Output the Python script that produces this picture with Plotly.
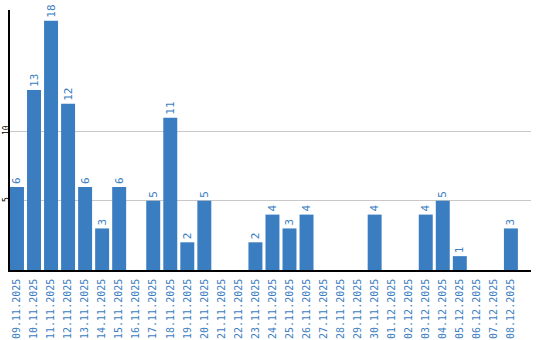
import plotly.graph_objects as go

dates = ["09.11.2025","10.11.2025","11.11.2025","12.11.2025","13.11.2025","14.11.2025",
         "15.11.2025","16.11.2025","17.11.2025","18.11.2025","19.11.2025","20.11.2025",
         "21.11.2025","22.11.2025","23.11.2025","24.11.2025","25.11.2025","26.11.2025",
         "27.11.2025","28.11.2025","29.11.2025","30.11.2025","01.12.2025","02.12.2025",
         "03.12.2025","04.12.2025","05.12.2025","06.12.2025","07.12.2025","08.12.2025"]
values = [6,13,18,12,6,3,6,0,5,11,2,5,0,0,2,4,3,4,0,0,0,4,0,0,4,5,1,0,0,3]
labels = [str(v) if v > 0 else "" for v in values]

blue = "#3b7dc1"
fig = go.Figure(go.Bar(
    x=dates, y=values, text=labels, textposition="outside", textangle=-90,
    cliponaxis=False, constraintext="none",
    textfont=dict(family="DejaVu Sans Mono", size=11, color=blue),
    marker=dict(color=blue, line=dict(width=0)),
))
fig.update_layout(
    width=540, height=340, margin=dict(l=10, r=9, t=10, b=70),
    paper_bgcolor="white", plot_bgcolor="white", bargap=0.18, showlegend=False,
)
fig.update_xaxes(type="category", range=[-0.41, 30.18], tickangle=-90, automargin=False,
                 tickfont=dict(family="DejaVu Sans Mono", size=10, color=blue),
                 ticklabelstandoff=3,
                 showline=True, linecolor="black", linewidth=1.5, showgrid=False,
                 ticks="", ticklen=0)
fig.update_yaxes(range=[0, 18.77], tickvals=[5, 10], ticktext=["5", "10"], automargin=False,
                 tickangle=-90, tickfont=dict(family="DejaVu Sans Mono", size=8, color="black"),
                 ticklabelstandoff=-4,
                 showline=True, linecolor="black", linewidth=1.5,
                 showgrid=True, gridcolor="#c8c8c8", gridwidth=1, zeroline=False,
                 ticks="", ticklen=0)
fig.write_html("out.html")
